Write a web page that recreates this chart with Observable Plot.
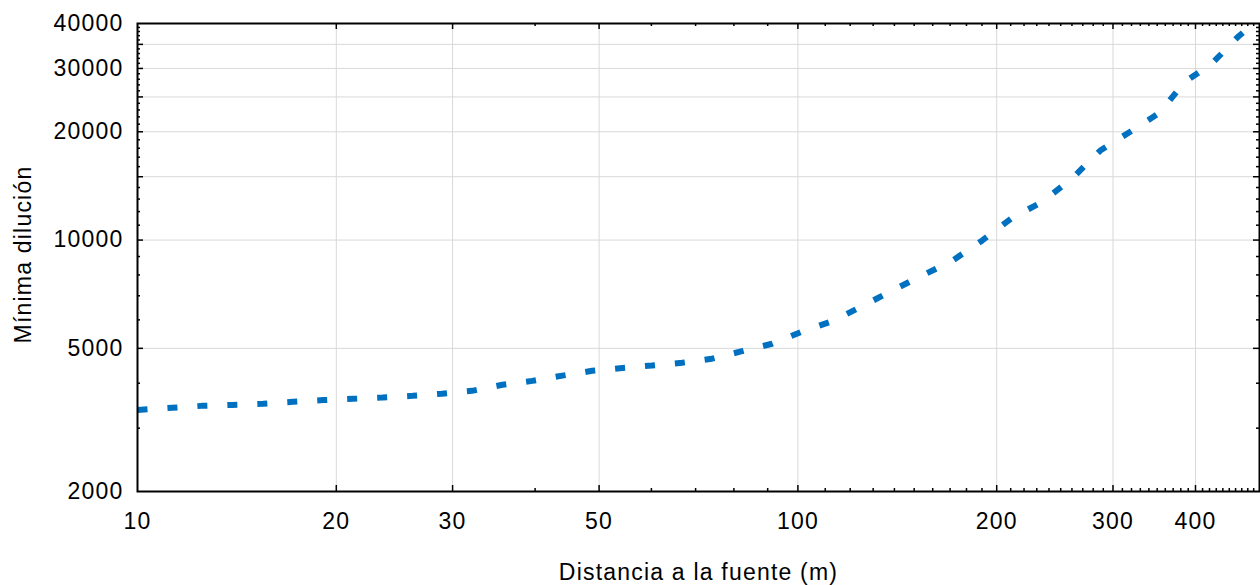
<!DOCTYPE html>
<html>
<head>
<meta charset="utf-8">
<script src="https://cdn.jsdelivr.net/npm/d3@7"></script>
<script src="https://cdn.jsdelivr.net/npm/@observablehq/plot@0.6"></script>
<style>
  html, body { margin: 0; padding: 0; background: #ffffff; }
  #chart svg text { letter-spacing: 1.2px; }
</style>
</head>
<body>
<div id="chart"></div>
<script>
// Data
const distance = [10, 11.3, 12.5, 13.9, 15.5, 17.2, 19.1, 21.2, 23.5, 26.1, 28.9, 32.1, 35.7, 39.6, 44.0, 48.8, 54.2, 60.1, 66.8, 74.1, 82.3, 91.4, 101, 113, 125, 139, 154, 171, 190, 211, 235, 261, 287, 319, 353, 385, 423, 465, 475];
const dilution = [3370, 3420, 3460, 3480, 3505, 3550, 3590, 3620, 3650, 3690, 3740, 3810, 3960, 4060, 4200, 4330, 4410, 4480, 4560, 4680, 4910, 5150, 5550, 5960, 6540, 7240, 7960, 8740, 9960, 11530, 12800, 14930, 17740, 20040, 22590, 27480, 30900, 36880, 38100];

const xTickLabels = [10, 20, 30, 50, 100, 200, 300, 400];
const yTickLabels = [2000, 5000, 10000, 20000, 30000, 40000];
const xGrid = [20, 30, 50, 100, 200, 300, 400];
const yGrid = [5000, 10000, 15000, 20000, 25000, 30000, 35000];
const xMajorTicks = [20, 30, 50, 100, 200, 300, 400];
const xMinorTicks = [40, 60, 70, 80, 90, 110, 120, 130, 140, 150, 160, 170, 180, 190, 210, 220, 230, 240, 250, 260, 270, 280, 290, 310, 320, 330, 340, 350, 360, 370, 380, 390, 410, 420, 430, 440, 450, 460, 470, 480, 490];
const yMajorTicks = [5000, 10000, 15000, 20000, 25000, 30000, 35000];
const yMinorTicks = [3000, 4000, 6000, 7000, 8000, 9000, 11000, 12000, 13000, 14000, 16000, 17000, 18000, 19000, 21000, 22000, 23000, 24000, 26000, 27000, 28000, 29000, 31000, 32000, 33000, 34000, 36000, 37000, 38000, 39000];

const xTitle = "Distancia a la fuente (m)";
const yTitle = "Mínima dilución";

const data = distance.map((d, i) => ({distance: d, dilution: dilution[i]}));

const W = 1260, H = 585;
const mL = 137, mR = 1, mT = 23, mB = 94;
const plotW = W - mL - mR, plotH = H - mT - mB;
const majorLen = 6, minorLen = 3;

const chart = Plot.plot({
  width: W,
  height: H,
  marginLeft: mL,
  marginRight: mR,
  marginTop: mT,
  marginBottom: mB,
  style: {fontFamily: "'Liberation Sans', Arial, sans-serif", fontSize: "23px", background: "#ffffff", color: "#000000"},
  x: {type: "log", domain: [10, 500]},
  y: {type: "log", domain: [2000, 40000]},
  marks: [
    Plot.gridX(xGrid, {stroke: "#d9d9d9", strokeOpacity: 1, strokeWidth: 1}),
    Plot.gridY(yGrid, {stroke: "#d9d9d9", strokeOpacity: 1, strokeWidth: 1}),
    // ticks (inward) bottom & top
    Plot.ruleX(xMajorTicks, {stroke: "#000", strokeWidth: 1.5, insetTop: plotH - majorLen}),
    Plot.ruleX(xMinorTicks, {stroke: "#000", strokeWidth: 1.5, insetTop: plotH - minorLen}),
    Plot.ruleX(xMajorTicks, {stroke: "#000", strokeWidth: 1.5, insetBottom: plotH - majorLen}),
    Plot.ruleX(xMinorTicks, {stroke: "#000", strokeWidth: 1.5, insetBottom: plotH - minorLen}),
    // ticks (inward) left & right
    Plot.ruleY(yMajorTicks, {stroke: "#000", strokeWidth: 1.5, insetRight: plotW - majorLen}),
    Plot.ruleY(yMinorTicks, {stroke: "#000", strokeWidth: 1.5, insetRight: plotW - minorLen}),
    Plot.ruleY(yMajorTicks, {stroke: "#000", strokeWidth: 1.5, insetLeft: plotW - majorLen}),
    Plot.ruleY(yMinorTicks, {stroke: "#000", strokeWidth: 1.5, insetLeft: plotW - minorLen}),
    Plot.axisX({ticks: xTickLabels, tickFormat: d => String(d), tickSize: 0, tickPadding: 21, label: null, fontSize: 23, fill: "#000"}),
    Plot.axisY({ticks: yTickLabels, tickFormat: d => String(d), tickSize: 0, tickPadding: 14, label: null, fontSize: 23, fill: "#000"}),
    Plot.line(data, {x: "distance", y: "dilution", stroke: "#0070C0", strokeWidth: 6, strokeDasharray: "10,20", strokeLinecap: "butt", strokeLinejoin: "miter"}),
    Plot.frame({stroke: "#000", strokeWidth: 2}),
    Plot.text([xTitle], {frameAnchor: "bottom", dy: 88, fontSize: 23, fill: "#000", textAnchor: "middle"}),
    Plot.text([yTitle], {frameAnchor: "left", dx: -114, dy: -3, rotate: -90, fontSize: 23, fill: "#000", textAnchor: "middle"})
  ]
});
document.getElementById("chart").appendChild(chart);
</script>
</body>
</html>
